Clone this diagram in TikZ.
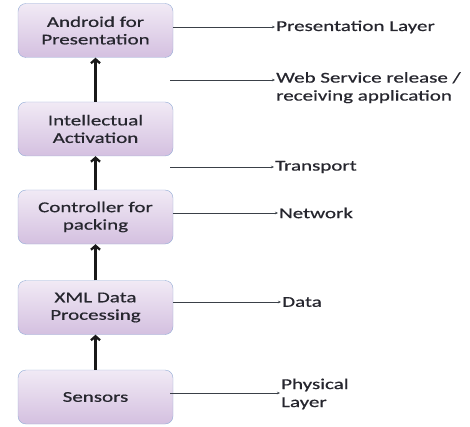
\documentclass[tikz,border=0pt]{standalone}
\usepackage{fontspec}
\setmainfont{Carlito}[FakeStretch=1.4, FakeBold=0.6]
\usetikzlibrary{arrows.meta}
\definecolor{boxtop}{HTML}{F1EAF5}
\definecolor{boxbot}{HTML}{D4C0E0}
\definecolor{boxline}{HTML}{94ACD6}
\definecolor{mytext}{HTML}{26262E}
\definecolor{myline}{HTML}{3A4048}

\begin{document}
\begin{tikzpicture}[x=1pt,y=-1pt]
\useasboundingbox (0,0) rectangle (470,427);
\tikzset{LayerBox/.style ={draw=boxline, rounded corners=8pt, top color=boxtop, bottom color=boxbot,
  minimum width=155pt, minimum height=54pt, align=center, text=mytext, font=\fontsize{15}{17.5}\selectfont}}
\tikzset{LayerText/.style ={anchor=west, inner sep=1pt, align=left, text=mytext, font=\fontsize{15}{18}\selectfont}}
\tikzset{UpArrow/.style ={-{Straight Barb[length=4pt,width=9pt]}, line width=2.3pt, black!90}}
\tikzset{SideArrow/.style ={-{Stealth[length=3pt,width=2.5pt]}, line width=0.6pt, myline}}
% boxes
\node[LayerBox] (android) at (95.5,30.5) {Android for\\Presentation};
\node[LayerBox] (intel) at (95.5,129) {Intellectual\\Activation};
\node[LayerBox] (control) at (95.5,217) {Controller for\\packing};
\node[LayerBox] (xml) at (95.5,307.5) {XML Data\\Processing};
\node[LayerBox] (sensors) at (95.5,397) {Sensors};
% layer names
\node[LayerText] (present) at (275,27) {Presentation Layer};
\node[LayerText, anchor=north west] (websvc) at (275,71) {Web Service release /\\receiving application};
\node[LayerText] (transport) at (274,167) {Transport};
\node[LayerText] (network) at (278,213) {Network};
\node[LayerText] (data) at (281,302) {Data};
\node[LayerText] (physical) at (280,394) {Physical\\Layer};
\coordinate (websvcstart) at (170,80);
\coordinate (transstart) at (170,167);
\coordinate (physstart) at (170,393);
% arrows
\draw[UpArrow] (sensors) -- (xml);
\draw[UpArrow] (xml) -- (control);
\draw[UpArrow] (control) -- (intel);
\draw[UpArrow] (intel) -- (android);
\draw[SideArrow] (android.east |- present) -- (present);
\draw[SideArrow] (websvcstart) -- (websvcstart -| websvc.west);
\draw[SideArrow] (transstart) -- (transport);
\draw[SideArrow] (control.east |- network) -- (network);
\draw[SideArrow] (xml.east |- data) -- (data);
\draw[SideArrow] (physstart) -- (physstart -| physical.west);
\end{tikzpicture}
\end{document}
